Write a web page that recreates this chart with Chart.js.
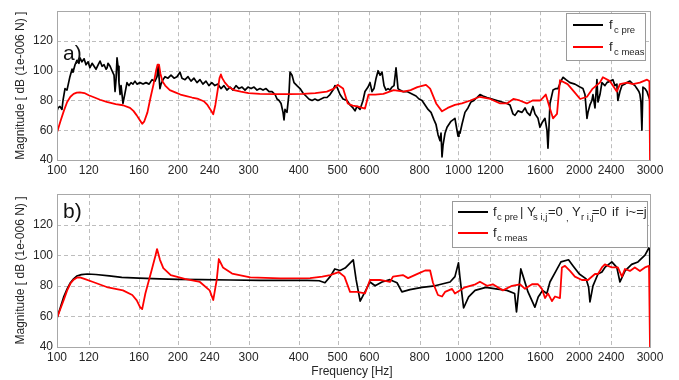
<!DOCTYPE html>
<html>
<head>
<meta charset="utf-8">
<script src="https://cdn.jsdelivr.net/npm/chart.js@4.4.1/dist/chart.umd.min.js"></script>
<style>
  html, body { margin: 0; padding: 0; background: #ffffff; }
  #wrap { position: relative; width: 679px; height: 380px; overflow: hidden; }
  canvas { position: absolute; left: 0; }
</style>
</head>
<body>
<div id="wrap">
  <canvas id="chartA" width="679" height="180" style="top:0px"></canvas>
  <canvas id="chartB" width="679" height="200" style="top:180px"></canvas>
</div>
<script>
// ---------------- DATA ----------------
const xTickValues = [100,120,160,200,240,300,400,500,600,800,1000,1200,1600,2000,2400,3000];
const yTickValues = [40,60,80,100,120];
const yGridValues = [40,60,80,100,120,140];

const xTitle = 'Frequency [Hz]';
const yTitle = 'Magnitude [ dB (1e-006 N) ]';

// Panel a) : f_c pre (black)
const aPreFreq = [
100,100.6,101.7,102.9,103.5,104.7,105.9,107.7,109,109.6,
110.9,112.1,113.4,114.1,115.4,116.8,118.1,119.5,120.8,122.3,
123.7,125.1,126.6,128,129.5,131,132.5,133.3,134,135.6,
137.1,138.7,139.5,140.3,141.1,141.9,142.7,143.6,144.4,146,
147.7,149.4,151.1,152.9,154.6,156.4,158.2,161,163.8,166.6,
169.6,172.5,175.4,177.5,178.5,179.5,180.5,181.6,183.7,185.8,
189,192.3,195.7,199,202.5,204.8,208.4,212,215.7,219.4,
223.2,227.1,230.9,235,239,243,247.3,251.6,256.1,260.5,
265,269.8,274.5,279.2,284,289,294,299,304.4,309.6,
315,320.5,326,331.7,337.5,343.3,349.3,353.3,357.4,361.5,
365.6,367.7,369.8,374,378.4,380.6,385,389.4,396,403.1,
410,417,424,431.8,439,446.6,454.7,462.5,470.5,478.6,
487,492.5,498.2,507,515.9,527.8,536.9,546.2,552.5,558.9,
568.6,578.4,585,595.3,602.2,609,616,623.5,630.7,637.7,
645,652.5,660,667.7,675.4,683,691,699,703,707,
715,727,744,757.5,770.6,784,797.6,811.5,825.6,840,
854.4,869.2,879,889.4,899.6,904.8,910,915.4,925.9,936.6,
947.3,958,969,980,991.7,997.4,1003,1008.8,1020.5,1038,
1056,1074.5,1093,1112,1131.5,1151,1178,1212,1247,1283,
1320.6,1343.9,1367,1383,1407,1440,1465,1482,1507,1533,
1551,1578,1596,1614.5,1633,1642.6,1661.6,1671,1680.6,1690.3,
1720,1749.6,1769.8,1800.4,1821,1852.7,1895.7,1950.6,2007.6,2042,
2066,2090,2102,2126,2150,2163,2188,2213,2226,2251.5,
2277,2316.5,2343,2384,2425,2453,2481,2495,2525,2554,
2598,2628,2674,2720,2751.5,2783,2815,2831.8,2848,2864,
2881,2914,2948,2965,3000];
const aPreDb = [
73,75,76,74,80,88,87,96,101,99,
104,107,105,108.6,106,108,104,106,102,105,
103,101,104,106.5,103,104,101,102,105,103,
100,97,86,94,108.6,103,92,84,90,78,
85,92,90,92,91,93,91,92,91,92,
91,94,93,96,103,96,88,91,94,96,
95,97,95,96,99,95,94,96,93,95,
92,94,91,93,90,92,90,91,88,90,
87,89,87,90,88,89,87,89,88,89,
87,88,87,88,86,86,84,81,80,78,
72,67,74,72,85,99,97,92,90,88,
85,83,81,80,81,80,81,82,82,84,
87,90,89,84,81,80,77,75,73,76,
74,80,86,89,92,86,88,95,100,97,
99,90,87,88,87,89,90,102,95,88,
87,86,86,85,84,83,81,80,77,74,
72,67,64,57,53,58,42,50,58,62,
64,66,67,68,60,56,59,58,64,72,
75,79,80,82,84,83,82,81,80,79,
78,77,71,70,73,72,75,72,70,76,
71,68,62,65,67,68,60,48,62,78,
87,88,88,93,95.6,94,92,91,89,88,
84,68,72,77,80,84,75,94,79,84,
92,90,92,93,94,90,91,80,86,90,
91,92,93,91,90,88,86,84,79,60,
89,88,86,84,80];

// Panel a) : f_c meas (red)
const aMeasFreq = [
100,102,104,106,108,110,112,114,117,120,
124,128,133,140,146,152,155,158,161,163,
165,168,171,174,176.5,178,179.5,181,183,186,
191,197,203,210,217,225,232,237,241,245,
248,251,254,256,258,262,268,276,287,300,
320,350,380,410,440,470,490,500,516,530,
545,560,585,592,597,620,650,690,730,760,
790,830,850,880,910,940,980,1020,1070,1130,
1200,1270,1320,1370,1420,1480,1530,1600,1650,1690,
1720,1760,1790,1870,1940,2010,2090,2160,2250,2290,
2385,2480,2525,2630,2720,2830,2950,2990,3000];
const aMeasDb = [
58.5,66,73,79,82.5,84.5,85.3,85.5,85,83.5,
82,80.5,79,77.5,76.8,75,73,70,66.5,64.3,
66,72,82,91,100,104,104,98,93,90,
87,85.5,84,83,82,81,79.5,77,74,70.7,
77,86,95,97.5,95,92,89,87,86,85,
84.5,84.3,84.3,84.5,85,86,88,90.5,88,78,
76.5,76,74.6,80,84,84,84.5,87,86,87,
89,90.5,88,78,72.7,75,77,78,80,82.5,
81,78,78,81,80,78,80,80,84,74.6,
68,71,93.6,91,86,81,82.5,88,92,95.6,
93,86,91,92,91,92,94,93,40];

// Panel b) : f_c pre | Ys=0, Yr=0 if i~=j (black)
const bPreFreq = [
100,102,104,106,108,110,112,115,119,125,
135,145,160,180,200,230,270,320,380,420,
450,465,479,492,507,522,547,556,569,585,
602,620,645,675,703,723,757,811,874,953,
980,1000,1008,1030,1060,1100,1170,1240,1320,1380,
1395,1415,1430,1450,1490,1550,1580,1620,1660,1690,
1750,1800,1880,1930,2000,2080,2110,2126,2163,2226,
2277,2316,2410,2480,2525,2600,2700,2800,2915,2980,
2995,3000];
const bPreDb = [
59,66,73,78,82,84.5,86.4,87.3,87.7,87.4,
86.5,85.5,85,84.5,84.2,84,83.8,83.6,83.5,83.5,
83.3,82,86,91,90,91.6,97,84,70,76,
82.5,80,82.5,84,82,76,77.5,79,80,82.5,
86,95,86,65.5,72.7,77,79,78,77,75,
63,79,91,86,76,66,72.7,77,75,82.5,
89.7,95.6,97,93,87.7,84.5,79,69.5,80,87.7,
89,92,95.6,92,82.5,89.7,94,95.6,100,104.7,
104,66];

// Panel b) : f_c meas (red)
const bMeasFreq = [
100,102,104,106,108,110,112,114,117,123,
133,146,154,158,161,163,166,172,176,177.5,
180.5,184,192,208,227,240,245,250,253,259,
273,303,360,427,458,479,503,520,537,559,
585,602,638,675,687,727,749,793,826,850,
864,889,910,926,964,980,1038,1102,1131,1178,
1218,1290,1360,1423,1465,1525,1578,1614,1643,1671,
1710,1740,1790,1810,1842,1896,1950,2030,2102,2188,
2226,2277,2316,2357,2411,2495,2554,2598,2674,2750,
2832,2914,2983,3000];
const bMeasDb = [
59,65,71,77,81.5,84,85.3,85.5,84.5,82.5,
79.2,77,74,70.5,66,64.8,75,90,100,104,
97,91.6,87,84.5,82.5,77,70.7,84,97.5,92,
88,85.5,84.8,85,86,87,89,86,76,76,
75,83.8,83.8,82.5,86,87,85,88,90,90,
82,74,73,76,78,75,79,81,82.7,80,
81,77,80,81,78,81,81,78,72,75,
70,73,72,92,93,89.7,86,83.8,83.8,87.7,
87.7,92,94,93,92,92,86,91,89.7,92,
89.7,92,93,40];

// ---------------- RENDERING ----------------
const TEXT = '#262626';
const FONT = 'Liberation Sans, Arial, sans-serif';

function pts(f, d) { return f.map((v, i) => ({ x: v, y: d[i] })); }

function drawLegendA(ctx) {
  ctx.save();
  ctx.fillStyle = '#ffffff';
  ctx.fillRect(566, 13, 79, 47);
  ctx.strokeStyle = '#9a9a9a'; ctx.lineWidth = 1;
  ctx.strokeRect(566.5, 13.5, 79, 47);
  ctx.lineWidth = 2;
  ctx.strokeStyle = '#000000';
  ctx.beginPath(); ctx.moveTo(573, 25); ctx.lineTo(603, 25); ctx.stroke();
  ctx.strokeStyle = '#ff0000';
  ctx.beginPath(); ctx.moveTo(573, 47); ctx.lineTo(603, 47); ctx.stroke();
  ctx.fillStyle = TEXT; ctx.textBaseline = 'alphabetic'; ctx.textAlign = 'left';
  ctx.font = '13px ' + FONT;
  ctx.fillText('f', 609, 29);
  ctx.fillText('f', 609, 51);
  ctx.font = '9.5px ' + FONT;
  ctx.fillText('c pre', 614, 33);
  ctx.fillText('c meas', 614, 55);
  ctx.restore();
}

function drawLegendB(ctx) {
  const oy = 21; // box top in canvas B coords
  ctx.save();
  ctx.fillStyle = '#ffffff';
  ctx.fillRect(452, oy, 195, 46);
  ctx.strokeStyle = '#9a9a9a'; ctx.lineWidth = 1;
  ctx.strokeRect(452.5, oy + 0.5, 195, 46);
  ctx.lineWidth = 2;
  ctx.strokeStyle = '#000000';
  ctx.beginPath(); ctx.moveTo(458, oy + 11); ctx.lineTo(488, oy + 11); ctx.stroke();
  ctx.strokeStyle = '#ff0000';
  ctx.beginPath(); ctx.moveTo(458, oy + 32); ctx.lineTo(488, oy + 32); ctx.stroke();
  ctx.fillStyle = TEXT; ctx.textBaseline = 'alphabetic'; ctx.textAlign = 'left';
  const m = '13px ' + FONT, s = '9.5px ' + FONT;
  const b1 = oy + 15, s1 = oy + 19;
  ctx.font = m; ctx.fillText('f', 493, b1);
  ctx.font = s; ctx.fillText('c pre', 497, s1);
  ctx.font = m; ctx.fillText('| Y', 520, b1);
  ctx.font = s; ctx.fillText('s i,j', 533, s1);
  ctx.font = m; ctx.fillText('=0', 548, b1);
  ctx.font = s; ctx.fillText(',', 566, s1 + 1);
  ctx.font = m; ctx.fillText('Y', 572, b1);
  ctx.font = s; ctx.fillText('r i,j', 581, s1);
  ctx.font = m; ctx.fillText('=0', 592, b1);
  ctx.font = m; ctx.fillText('if  i~=j', 612, b1);
  const b2 = oy + 36, s2 = oy + 40;
  ctx.font = m; ctx.fillText('f', 493, b2);
  ctx.font = s; ctx.fillText('c meas', 497, s2);
  ctx.restore();
}

function makeChart(id, preF, preD, measF, measD, cfg) {
  const decor = {
    id: 'decor' + id,
    beforeDatasetsDraw(chart) {
      const ctx = chart.ctx;
      const a = chart.chartArea;
      const xs = chart.scales.x, ys = chart.scales.y;
      ctx.save();
      ctx.strokeStyle = '#bdbdbd';
      ctx.lineWidth = 1;
      ctx.setLineDash([4, 3]);
      xTickValues.forEach(v => {
        const px = Math.round(xs.getPixelForValue(v)) + 0.5;
        ctx.beginPath(); ctx.moveTo(px, a.top); ctx.lineTo(px, a.bottom); ctx.stroke();
      });
      yGridValues.forEach(v => {
        const py = Math.round(ys.getPixelForValue(v)) + 0.5;
        ctx.beginPath(); ctx.moveTo(a.left, py); ctx.lineTo(a.right, py); ctx.stroke();
      });
      ctx.restore();
    },
    afterDraw(chart) {
      const ctx = chart.ctx;
      const a = chart.chartArea;
      ctx.save();
      // plot box
      ctx.strokeStyle = '#a8a8a8';
      ctx.lineWidth = 1;
      ctx.strokeRect(Math.round(a.left) + 0.5, Math.round(a.top) + 0.5,
                     Math.round(a.right - a.left), Math.round(a.bottom - a.top));
      // y title
      ctx.fillStyle = TEXT;
      ctx.font = '12px ' + FONT;
      ctx.textAlign = 'center';
      ctx.textBaseline = 'middle';
      ctx.translate(21, (a.top + a.bottom) / 2);
      ctx.rotate(-Math.PI / 2);
      ctx.fillText(yTitle, 0, 0);
      ctx.restore();
      // panel label
      ctx.save();
      ctx.fillStyle = '#111111';
      ctx.font = '21px ' + FONT;
      ctx.textAlign = 'left';
      ctx.textBaseline = 'alphabetic';
      ctx.fillText(cfg.label, cfg.labelX, cfg.labelY);
      ctx.restore();
      if (cfg.xTitle) {
        ctx.save();
        ctx.fillStyle = TEXT;
        ctx.font = '12px ' + FONT;
        ctx.textAlign = 'center';
        ctx.textBaseline = 'middle';
        ctx.fillText(xTitle, 352, cfg.xTitleY);
        ctx.restore();
      }
      cfg.legend(ctx);
    }
  };
  return new Chart(document.getElementById(id), {
    type: 'line',
    data: {
      datasets: [
        { label: 'meas', data: pts(measF, measD), borderColor: '#ff0000', borderWidth: 1.8, order: 0 },
        { label: 'pre', data: pts(preF, preD), borderColor: '#000000', borderWidth: 1.7, order: 1 }
      ]
    },
    options: {
      responsive: false,
      animation: false,
      events: [],
      elements: { point: { radius: 0 }, line: { tension: 0, borderJoinStyle: 'round' } },
      layout: { padding: { left: 0, right: 29, top: cfg.padTop, bottom: 0 } },
      plugins: { legend: { display: false }, tooltip: { enabled: false } },
      scales: {
        x: {
          type: 'logarithmic',
          min: 100, max: 3000,
          afterBuildTicks(axis) { axis.ticks = xTickValues.map(v => ({ value: v })); },
          afterFit(axis) { axis.height = cfg.xHeight; },
          ticks: {
            autoSkip: false, maxRotation: 0, minRotation: 0, padding: 3,
            color: TEXT, font: { family: FONT, size: 12 },
            callback: (v) => xTickValues.includes(v) ? String(v) : ''
          },
          grid: { display: false, drawTicks: false },
          border: { display: false }
        },
        y: {
          type: 'linear',
          min: 40, max: 140,
          afterBuildTicks(axis) { axis.ticks = yGridValues.map(v => ({ value: v })); },
          afterFit(axis) { axis.width = 57; },
          ticks: {
            padding: 4, color: TEXT, font: { family: FONT, size: 12 },
            callback: (v) => yTickValues.includes(v) ? String(v) : ''
          },
          grid: { display: false, drawTicks: false },
          border: { display: false }
        }
      }
    },
    plugins: [decor]
  });
}

makeChart('chartA', aPreFreq, aPreDb, aMeasFreq, aMeasDb, {
  padTop: 7, xHeight: 20, label: 'a)', labelX: 63, labelY: 60, legend: drawLegendA
});
makeChart('chartB', bPreFreq, bPreDb, bMeasFreq, bMeasDb, {
  padTop: 14, xHeight: 33, label: 'b)', labelX: 63, labelY: 38, legend: drawLegendB,
  xTitle: true, xTitleY: 192
});
</script>
</body>
</html>
